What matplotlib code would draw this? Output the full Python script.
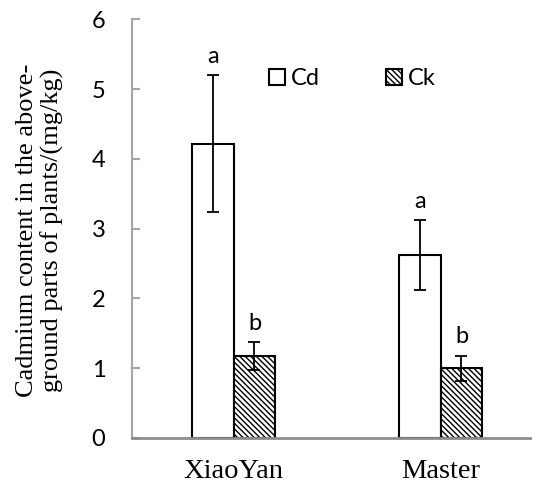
import numpy as np
import matplotlib.pyplot as plt
from matplotlib.patches import Patch

# values
varieties = ["XiaoYan", "Master"]
cd_mean = [4.22, 2.62]
cd_err = [0.98, 0.50]
ck_mean = [1.17, 1.00]
ck_err = [0.20, 0.18]
cd_letters = ["a", "a"]
ck_letters = ["b", "b"]

plt.rcParams["hatch.linewidth"] = 1.0

fig = plt.figure(figsize=(5.4, 4.86), dpi=100)
ax = fig.add_axes([0.244, 0.099, 0.737, 0.861])

x = np.arange(len(varieties))
w = 0.2
ekw = dict(ecolor="black", elinewidth=1.3, capsize=4, capthick=1.3)
hatch = "\\" * 6

ax.bar(x - w / 2, cd_mean, w, color="white", edgecolor="black", linewidth=1.5,
       yerr=cd_err, error_kw=ekw, zorder=2)
ax.bar(x + w / 2, ck_mean, w, color="white", edgecolor="black", linewidth=1.5,
       hatch=hatch, yerr=ck_err, error_kw=ekw, zorder=2)

for i in range(len(varieties)):
    ax.text(x[i] - w / 2, cd_mean[i] + cd_err[i] + 0.12, cd_letters[i],
            ha="center", va="bottom", fontsize=17, family="Lato")
    ax.text(x[i] + w / 2, ck_mean[i] + ck_err[i] + 0.12, ck_letters[i],
            ha="center", va="bottom", fontsize=17, family="Lato")

ax.set_xlim(-0.493, 1.43)
ax.set_ylim(0, 6)
ax.set_yticks(range(7))
ax.set_xticks(x)
ax.set_xticklabels(varieties, family="Liberation Serif", fontsize=20.5)
for lab in ax.get_yticklabels():
    lab.set_family("Lato")
    lab.set_fontsize(17)

ax.tick_params(axis="y", direction="in", length=6, width=1.5, color="#a6a6a6", pad=19)
ax.tick_params(axis="x", length=0, pad=15)

for s in ["top", "right"]:
    ax.spines[s].set_visible(False)
ax.spines["left"].set_color("#a6a6a6")
ax.spines["left"].set_linewidth(1.5)
ax.spines["bottom"].set_color("#8c8c8c")
ax.spines["bottom"].set_linewidth(2)
ax.spines["bottom"].set_zorder(3)

fig.text(0.074, 0.527, "Cadmium content in the above-\nground parts of plants/(mg/kg)",
         rotation=90, ha="center", va="center", multialignment="center",
         family="Liberation Serif", fontsize=19, linespacing=1.15)

handles = [Patch(facecolor="white", edgecolor="black", linewidth=1.5, label="Cd"),
           Patch(facecolor="white", edgecolor="black", linewidth=1.5, hatch=hatch, label="Ck")]
fig.legend(handles=handles, loc="center left", bbox_to_anchor=(0.498, 0.838), ncol=2,
           frameon=False, borderpad=0, borderaxespad=0, handlelength=0.68, handleheight=0.68,
           handletextpad=0.25, columnspacing=2.8, prop={"family": "Lato", "size": 17})

fig.savefig("out.png", dpi=100)
